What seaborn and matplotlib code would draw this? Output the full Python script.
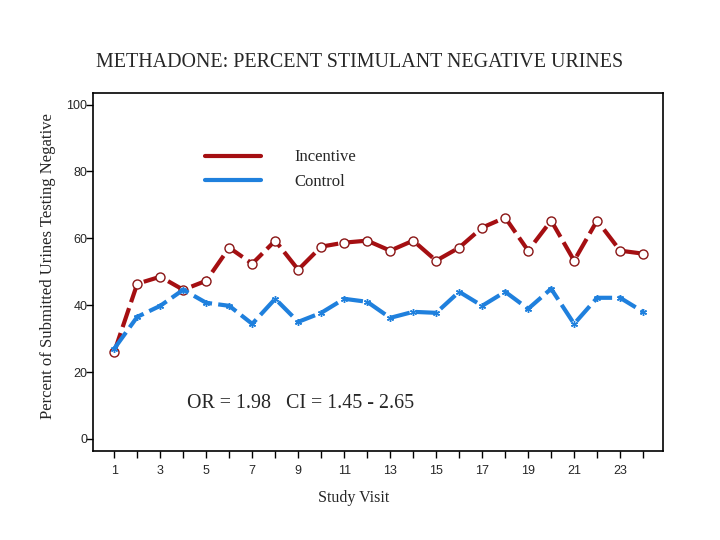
import numpy as np
import pandas as pd
import matplotlib
matplotlib.use("Agg")
import matplotlib.pyplot as plt
from matplotlib.lines import Line2D
import seaborn as sns

# data
visits = list(range(1, 25))
incentive = [26.0, 46.4, 48.5, 44.6, 47.3, 57.2, 52.4, 59.3, 50.6, 57.5, 58.7, 59.3,
             56.3, 59.3, 53.3, 57.2, 63.2, 66.2, 56.3, 65.3, 53.3, 65.3, 56.3, 55.4]
control = [27.0, 36.5, 39.8, 44.6, 40.7, 39.8, 34.4, 41.9, 35.0, 37.7, 41.9, 41.0,
           36.2, 38.0, 37.7, 44.0, 39.8, 44.0, 38.9, 44.9, 34.4, 42.2, 42.2, 38.0]
y_ticks = [0, 20, 40, 60, 80, 100]
x_labels = [str(v) if v % 2 == 1 else "" for v in visits]

red = "#a50f12"
blue = "#1f80dd"
serif = ["Liberation Serif", "DejaVu Serif"]
sans = ["Liberation Sans", "DejaVu Sans"]

sns.set_style("white")
plt.rcParams["font.family"] = sans

fig = plt.figure(figsize=(7.2, 5.4), dpi=100)
ax = fig.add_axes([0.129, 0.165, 0.792, 0.663])

df = pd.DataFrame({"visit": visits, "Incentive": incentive, "Control": control})

sns.lineplot(data=df, x="visit", y="Incentive", ax=ax, color=red, lw=3.0,
             marker="o", markersize=6.5, markerfacecolor="white",
             markeredgecolor="#8a1616", markeredgewidth=1.0)
sns.lineplot(data=df, x="visit", y="Control", ax=ax, color=blue, lw=3.0,
             marker=(6, 2, 0), markersize=5, markeredgecolor=blue,
             markeredgewidth=1.0)
for ln in ax.lines[:2]:
    ln.set_dashes((4.8, 1.5))

ax.set_xlim(0.07, 24.87)
ax.set_ylim(-3.6, 103.5)
ax.set_xticks(visits)
ax.set_xticklabels(x_labels)
ax.set_yticks(y_ticks)
ax.set_yticklabels([str(t) for t in y_ticks])
ax.tick_params(axis="x", direction="out", length=5, width=1, pad=5,
               labelsize=9, bottom=True, color="black")
ax.tick_params(axis="y", direction="out", length=5, width=1, pad=-1,
               labelsize=9, left=True, color="black")
for sp in ax.spines.values():
    sp.set_color("black")
    sp.set_linewidth(1.2)

ax.set_ylabel("Percent of Submitted Urines Testing Negative",
              family=serif, fontsize=12)
ax.yaxis.set_label_coords(-0.065, 0.517)
ax.set_xlabel("Study Visit", family=serif, fontsize=11.5)
ax.xaxis.set_label_coords(0.458, -0.11)

fig.text(0.499, 0.884, "METHADONE: PERCENT STIMULANT NEGATIVE URINES",
         family=serif, fontsize=14.4, ha="center", va="center")

ax.text(4.17, 10.6, "OR = 1.98   CI = 1.45 - 2.65", family=serif,
        fontsize=14.4, ha="left", va="center")

handles = [Line2D([0], [0], color=red, lw=3), Line2D([0], [0], color=blue, lw=3)]
leg = ax.legend(handles, ["Incentive", "Control"], loc="upper left",
                bbox_to_anchor=(0.196, 0.842), frameon=False, borderpad=0,
                borderaxespad=0, handlelength=3.4, handletextpad=2.0,
                labelspacing=0.5, prop={"family": serif, "size": 12})

fig.savefig("out.png", dpi=100)
